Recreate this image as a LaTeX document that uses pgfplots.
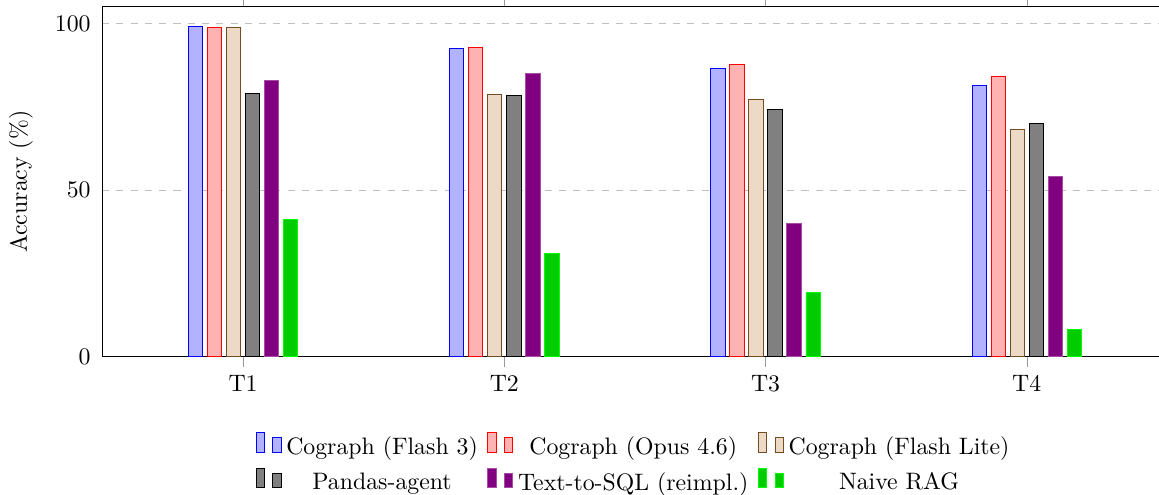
\documentclass[border=0pt]{standalone}
\usepackage{pgfplots}
\pgfplotsset{compat=1.18}
\begin{document}
\begin{tikzpicture}
\begin{axis}[
  scale only axis,
  width=448pt, height=147pt,
  ybar=2pt, bar width=6pt,
  xmin=-0.54, xmax=3.54,
  ymin=0, ymax=105,
  xtick={0,1,2,3},
  xticklabels={T1,T2,T3,T4},
  x tick style={black!40},
  xtick align=outside,
  major tick length=4.2pt,
  ytick={0,50,100},
  ytick style={draw=none},
  yticklabel style={xshift=-1.3pt},
  ymajorgrids=true,
  grid style={dashed, gray!50},
  ylabel={Accuracy (\%)},
  ylabel style={yshift=2.4pt},
  legend columns=3,
  legend cell align=center,
  legend style={draw=none, at={(0.5,-0.2)}, anchor=north, row sep=2pt, /tikz/every even column/.append style={column sep=2pt}},
  legend image code/.code={\draw[#1,/tikz/.cd,bar width=3.5pt,yshift=-0.2em,bar shift=0pt] plot coordinates {(0cm,0.8em) (7pt,0.6em)};},
]
\addplot[draw=blue, fill=blue!30] coordinates {(0,99.0) (1,92.4) (2,86.4) (3,81.4)};
\addplot[draw=red, fill=red!30] coordinates {(0,98.7) (1,92.7) (2,87.8) (3,84.1)};
\addplot[draw=brown!60!black, fill=brown!30] coordinates {(0,98.7) (1,78.8) (2,77.2) (3,68.1)};
\addplot[draw=black, fill=gray] coordinates {(0,78.9) (1,78.3) (2,74.2) (3,69.9)};
\addplot[draw=violet!70, fill=violet] coordinates {(0,82.8) (1,84.9) (2,39.9) (3,54.0)};
\addplot[draw=green, fill=green!80!black] coordinates {(0,41.1) (1,30.9) (2,19.1) (3,8.0)};
\legend{Cograph (Flash 3), Cograph (Opus 4.6), Cograph (Flash Lite), Pandas-agent, Text-to-SQL (reimpl.), Naive RAG}
\end{axis}
\pgfresetboundingbox
\path[use as bounding box] (-42.9pt,-57.8pt) rectangle (444.3pt,149.9pt);
\end{tikzpicture}
\end{document}
